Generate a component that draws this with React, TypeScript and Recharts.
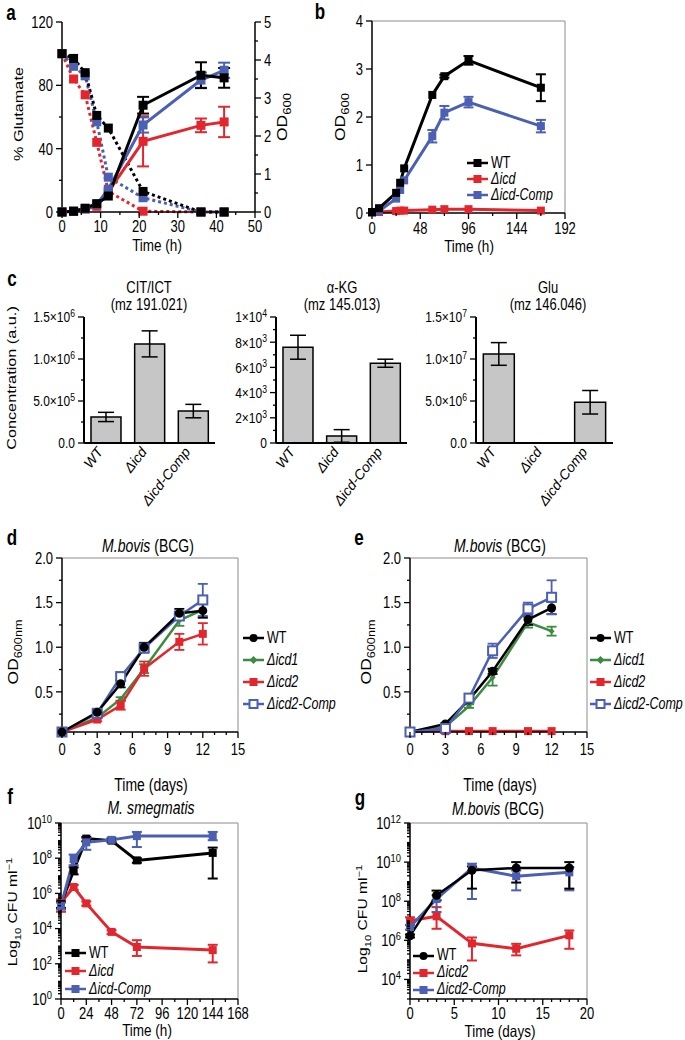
import React from 'react';
import { LineChart, Line, BarChart, Bar, XAxis, YAxis, ErrorBar, ReferenceLine, Legend } from 'recharts';

const FONT = "'Liberation Sans', Arial, Helvetica, sans-serif";
const RED = '#e1272d';
const BLUE = '#4b5fb3';
const GREEN = '#3d8b40';
const INK = '#000000';
const BAR_FILL = '#c6c6c6';
const BOX = '#8c8c8c';
const STRETCH = 1.25; // the source figure's lettering is taller than it is wide

// ---- a: glutamate consumption (dotted, left) and OD600 (solid, right)
const aTime = [0, 3, 6, 9, 12, 21, 36, 42];
const aGluWT = [100, 97, 88, 61, 53, 13, 0, 0];
const aGluIcd = [100, 84, 74, 44, 13, 0.5, 0, 0];
const aGluComp = [100, 92, 86, 57, 22, 9, 0, 0];
const aOdWT = [0, 0.02, 0.1, 0.22, 0.42, 2.81, 3.6, 3.53];
const aOdIcd = [0, 0.02, 0.08, 0.15, 0.53, 1.86, 2.28, 2.37];
const aOdComp = [0, 0.02, 0.08, 0.2, 0.6, 2.29, 3.47, 3.73];
const aOdWTErr = [0, 0, 0, 0, 0, 0.22, 0.34, 0.26];
const aOdIcdErr = [0, 0, 0, 0, 0, 0.66, 0.18, 0.4];
const aOdCompErr = [0, 0, 0, 0, 0, 0.2, 0.2, 0.2];
const aXTicks = [0, 5, 10, 15, 20, 25, 30, 35, 40, 45, 50];
const aXLabels = [0, 10, 20, 30, 40, 50];
const aGluTicks = [0, 20, 40, 60, 80, 100, 120];
const aGluLabels = [0, 40, 80, 120];
const aOdTicks = [0, 0.5, 1, 1.5, 2, 2.5, 3, 3.5, 4, 4.5, 5];
const aOdLabels = [0, 1, 2, 3, 4, 5];

// ---- b: OD600 growth
const bTime = [0, 7, 24, 28, 32, 60, 72, 96, 168];
const bWT = [0.02, 0.1, 0.42, 0.63, 0.93, 2.46, 2.85, 3.18, 2.61];
const bIcd = [0.01, 0.02, 0.04, 0.05, 0.05, 0.07, 0.08, 0.08, 0.05];
const bComp = [0.01, 0.04, 0.3, 0.48, 0.68, 1.6, 2.09, 2.31, 1.81];
const bWTErr = [0, 0, 0, 0, 0, 0, 0.03, 0.09, 0.28];
const bCompErr = [0, 0, 0, 0, 0, 0.13, 0.14, 0.11, 0.13];
const bXTicks = [0, 24, 48, 72, 96, 120, 144, 168, 192];
const bXLabels = [0, 48, 96, 144, 192];
const bYTicks = [0, 1, 2, 3, 4];

// ---- c: metabolite bars
const cStrains = ['WT', 'Δicd', 'Δicd-Comp'];
const c1Vals = [3.1e5, 1.18e6, 3.8e5];
const c1Errs = [5.5e4, 1.55e5, 8e4];
const c2Vals = [7600, 560, 6330];
const c2Errs = [950, 500, 320];
const c3Vals = [1.06e7, 4e4, 4.85e6];
const c3Errs = [1.35e6, 0, 1.4e6];
const c1Ticks = [0, 2.5e5, 5e5, 7.5e5, 1e6, 1.25e6, 1.5e6];
const c1Labels = [0, 5e5, 1e6, 1.5e6];
const c1Mant = ['0.0', '5.0×10', '1.0×10', '1.5×10'];
const c1Exp = ['', '5', '6', '6'];
const c2Ticks = [0, 1e3, 2e3, 3e3, 4e3, 5e3, 6e3, 7e3, 8e3, 9e3, 1e4];
const c2Labels = [0, 2e3, 4e3, 6e3, 8e3, 1e4];
const c2Mant = ['0', '2×10', '4×10', '6×10', '8×10', '1×10'];
const c2Exp = ['', '3', '3', '3', '3', '4'];
const c3Ticks = [0, 2.5e6, 5e6, 7.5e6, 1e7, 1.25e7, 1.5e7];
const c3Labels = [0, 5e6, 1e7, 1.5e7];
const c3Mant = ['0.0', '5.0×10', '1.0×10', '1.5×10'];
const c3Exp = ['', '6', '7', '7'];

// ---- d / e: M. bovis OD
const deTime = [0, 3, 5, 7, 10, 12];
const dWT = [0.05, 0.27, 0.59, 1.0, 1.38, 1.41];
const dWTErr = [0, 0.02, 0.04, 0.05, 0.05, 0.08];
const dIcd1 = [0.05, 0.21, 0.42, 0.76, 1.3, 1.42];
const dIcd1Err = [0, 0.01, 0.02, 0.05, 0.06, 0.08];
const dIcd2 = [0.05, 0.19, 0.35, 0.76, 1.06, 1.15];
const dIcd2Err = [0, 0.02, 0.05, 0.08, 0.09, 0.12];
const dComp = [0.05, 0.26, 0.67, 0.99, 1.35, 1.53];
const dCompErr = [0, 0.02, 0.05, 0.05, 0.04, 0.18];
const eWT = [0.05, 0.14, 0.41, 0.73, 1.31, 1.44];
const eWTErr = [0, 0.01, 0.02, 0.03, 0.06, 0.07];
const eIcd1 = [0.05, 0.11, 0.34, 0.66, 1.28, 1.18];
const eIcd1Err = [0, 0.01, 0.02, 0.09, 0.06, 0.05];
const eIcd2 = [0.05, 0.06, 0.06, 0.06, 0.06, 0.06];
const eIcd2Err = [0, 0, 0, 0, 0, 0];
const eComp = [0.05, 0.09, 0.43, 0.96, 1.43, 1.56];
const eCompErr = [0, 0.01, 0.03, 0.08, 0.07, 0.19];
const deXTicks = [0, 1, 2, 3, 4, 5, 6, 7, 8, 9, 10, 11, 12, 13, 14, 15];
const deXLabels = [0, 3, 6, 9, 12, 15];
const deYTicks = [0.25, 0.5, 0.75, 1, 1.25, 1.5, 1.75, 2];
const deYLabels = [0.5, 1, 1.5, 2];

// ---- f: M. smegmatis CFU
const fTime = [0, 12, 24, 48, 72, 144];
const fWT = [2.5e5, 2e7, 1.3e9, 1e9, 7.5e7, 2e8];
const fWTLo = [1.5e5, 1.2e7, 9e8, 8e8, 5.5e7, 7e6];
const fWTHi = [3.5e5, 3e7, 1.6e9, 1.3e9, 1e8, 4e8];
const fIcd = [3e5, 2.3e6, 2.7e5, 6.5e3, 9e2, 6e2];
const fIcdLo = [9e4, 1.6e6, 2e5, 5e3, 2.8e2, 1.2e2];
const fIcdHi = [4.5e5, 3e6, 3.5e5, 8e3, 2.2e3, 1.2e3];
const fComp = [2e5, 9e7, 8e8, 1.1e9, 1.8e9, 1.8e9];
const fCompLo = [1.2e5, 4e7, 3e8, 9e8, 4.3e8, 1.05e9];
const fCompHi = [3e5, 1.6e8, 1.4e9, 1.3e9, 3.1e9, 3.1e9];
const fXTicks = [0, 12, 24, 36, 48, 60, 72, 84, 96, 108, 120, 132, 144, 156, 168];
const fXLabels = [0, 24, 48, 72, 96, 120, 144, 168];
const fYLabels = [1, 1e2, 1e4, 1e6, 1e8, 1e10];

// ---- g: M. bovis CFU
const gTime = [0, 3, 7, 12, 18];
const gWT = [1.7e6, 2e8, 3.8e9, 5e9, 5e9];
const gWTLo = [1.4e6, 1.1e8, 4.4e8, 9e8, 4.4e8];
const gWTHi = [2e6, 3.5e8, 6e9, 1e10, 1e10];
const gIcd = [1e7, 1.7e7, 7e5, 3.7e5, 1.8e6];
const gIcdLo = [6e6, 3.9e6, 9.3e4, 1.7e5, 3.7e5];
const gIcdHi = [1.5e7, 5e7, 1.4e6, 6.6e5, 3.2e6];
const gComp = [4.8e6, 1.3e8, 5e9, 1.9e9, 3e9];
const gCompLo = [3.5e6, 2.8e7, 1.3e8, 3.6e8, 3.6e8];
const gCompHi = [6e6, 2e8, 8.3e9, 3.7e9, 5.6e9];
const gXTicks = [0, 1, 2, 3, 4, 5, 6, 7, 8, 9, 10, 11, 12, 13, 14, 15, 16, 17, 18, 19, 20];
const gXLabels = [0, 5, 10, 15, 20];
const gYLabels = [1e4, 1e6, 1e8, 1e10, 1e12];

// log axis minor ticks (2..9 x 10^n)
const logTicks = (lo: number, hi: number) => {
  const out: number[] = [];
  for (let e = lo; e <= hi; e++) {
    out.push(Math.pow(10, e));
    if (e < hi) for (let k = 2; k <= 9; k++) out.push(k * Math.pow(10, e));
  }
  return out;
};

const aData = aTime.map((t, i) => ({
  t, gWT: aGluWT[i], gIcd: aGluIcd[i], gComp: aGluComp[i],
  oWT: aOdWT[i], oIcd: aOdIcd[i], oComp: aOdComp[i],
  oWTe: aOdWTErr[i], oIcde: aOdIcdErr[i], oCompe: aOdCompErr[i],
}));
const bData = bTime.map((t, i) => ({ t, wt: bWT[i], icd: bIcd[i], comp: bComp[i], wte: bWTErr[i], compe: bCompErr[i] }));
const barData = (v: number[], e: number[]) => cStrains.map((name, i) => ({ name, v: v[i], e: e[i] }));
const deData = (w: number[], we: number[], k1: number[], k1e: number[], k2: number[], k2e: number[], c: number[], ce: number[]) =>
  deTime.map((t, i) => ({ t, wt: w[i], wte: we[i], k1: k1[i], k1e: k1e[i], k2: k2[i], k2e: k2e[i], comp: c[i], compe: ce[i] }));
const logRow = (v: number, lo: number, hi: number) => [v - lo, hi - v];
const fData = fTime.map((t, i) => ({
  t, wt: fWT[i], wte: logRow(fWT[i], fWTLo[i], fWTHi[i]),
  icd: fIcd[i], icde: logRow(fIcd[i], fIcdLo[i], fIcdHi[i]),
  comp: fComp[i], compe: logRow(fComp[i], fCompLo[i], fCompHi[i]),
}));
const gData = gTime.map((t, i) => ({
  t, wt: gWT[i], wte: logRow(gWT[i], gWTLo[i], gWTHi[i]),
  icd: gIcd[i], icde: logRow(gIcd[i], gIcdLo[i], gIcdHi[i]),
  comp: gComp[i], compe: logRow(gComp[i], gCompLo[i], gCompHi[i]),
}));

type Mk = 'sq' | 'ci' | 'open' | 'dia';
const marker = (kind: Mk, color: string, cx: number, cy: number, s: number, key?: string) => {
  if (cx == null || cy == null) return <g key={key} />;
  if (kind === 'ci') return <circle key={key} cx={cx} cy={cy} r={s / 2} fill={color} />;
  if (kind === 'open')
    return <rect key={key} x={cx - s / 2} y={cy - s / 2} width={s} height={s} fill="#fff" stroke={color} strokeWidth={2} />;
  if (kind === 'dia')
    return <path key={key} d={`M${cx} ${cy - s / 2}L${cx + s / 2} ${cy}L${cx} ${cy + s / 2}L${cx - s / 2} ${cy}Z`} fill={color} />;
  return <rect key={key} x={cx - s / 2} y={cy - s / 2} width={s} height={s} fill={color} />;
};
const dotFn = (kind: Mk, color: string, s: number) => (p: any) =>
  marker(kind, color, p.cx, p.cy, s, `${p.dataKey}-${p.index}`);

type Side = 'bottom' | 'left' | 'right';
const same = (a: number, b: number) => Math.abs(a - b) <= 1e-9 * Math.max(1, Math.abs(a));
function makeTick(side: Side, labelled: number[], fmt: (v: number) => React.ReactNode = (v) => String(v), fs = 13, drop = 14) {
  return (p: any) => {
    const v = Number(p.payload.value);
    const on = labelled.some((u) => same(u, v));
    const len = on ? 6 : 3;
    const label = (tx: number, ty: number, anchor: string) => (
      <g transform={`translate(${tx} ${ty}) scale(1 ${STRETCH})`}>
        <text x={0} y={0} dy="0.36em" textAnchor={anchor} fontFamily={FONT} fontSize={fs} fill={INK}>
          {fmt(v)}
        </text>
      </g>
    );
    if (side === 'bottom') {
      return (
        <g>
          <line x1={p.x} x2={p.x} y1={p.y} y2={p.y + len} stroke={INK} strokeWidth={1.3} />
          {on && label(p.x, p.y + drop, 'middle')}
        </g>
      );
    }
    const dir = side === 'left' ? -1 : 1;
    return (
      <g>
        <line x1={p.x} x2={p.x + dir * len} y1={p.y} y2={p.y} stroke={INK} strokeWidth={1.3} />
        {on && label(p.x + dir * 9, p.y, side === 'left' ? 'end' : 'start')}
      </g>
    );
  };
}

const sciFmt = (labels: number[], mant: string[], exp: string[]) => (v: number) => {
  const i = labels.findIndex((u) => same(u, v));
  return (
    <>
      <tspan>{mant[i]}</tspan>
      {exp[i] ? <tspan dy="-0.5em" fontSize="0.72em">{exp[i]}</tspan> : null}
    </>
  );
};
const powFmt = (v: number) => (
  <>
    <tspan>10</tspan>
    <tspan dy="-0.5em" fontSize="0.72em">{Math.round(Math.log10(v))}</tspan>
  </>
);

const CatTick = (p: any) => {
  const x = p.x - 2;
  const y = p.y + 9;
  return (
    <text x={x} y={y} transform={`rotate(-52 ${x} ${y})`} textAnchor="end" fontFamily={FONT} fontSize={14} fontStyle="italic" fill={INK}>
      {p.payload.value}
    </text>
  );
};

type Item = { name: string; color: string; kind: Mk; italic?: boolean };
const legendOf = (items: Item[], row: number, fs = 12.5) => () => (
  <div style={{ fontFamily: FONT, fontSize: fs, lineHeight: 1, whiteSpace: 'nowrap', color: INK }}>
    {items.map((it) => (
      <div key={it.name} style={{ height: row, display: 'flex', alignItems: 'center' }}>
        <svg width={21} height={12} style={{ flex: 'none' }}>
          <line x1={0} x2={21} y1={6} y2={6} stroke={it.color} strokeWidth={2.5} />
          {marker(it.kind, it.color, 10.5, 6, 8)}
        </svg>
        <span style={{ marginLeft: 3, display: 'inline-block', transform: `scale(1, ${STRETCH})`, fontStyle: it.italic ? 'italic' : 'normal' }}>
          {it.name}
        </span>
      </div>
    ))}
  </div>
);

const AX = { stroke: INK, strokeWidth: 1.5 };

const Txt = ({ x, y, rot = 0, size = 13, bold = false, children }: any) => (
  <div
    style={{
      position: 'absolute', left: x, top: y, transform: `translate(-50%, -50%) scale(1, ${STRETCH}) rotate(${rot}deg)`,
      fontSize: size, fontWeight: bold ? 700 : 400, whiteSpace: 'nowrap', lineHeight: 1, fontFamily: FONT, color: INK,
    }}
  >
    {children}
  </div>
);

const Box = ({ x, y, w, h, children }: any) => (
  <div style={{ position: 'absolute', left: x, top: y, width: w, height: h }}>{children}</div>
);

const MetaBars = ({ data, domain, ticks, labels, fmt, width }: any) => (
  <BarChart width={width} height={218} data={data} margin={{ top: 17, right: 5, bottom: 0, left: 0 }} barCategoryGap="16%">
    <XAxis dataKey="name" height={75} interval={0} tickLine={false} tickSize={0} tickMargin={0} axisLine={{ stroke: INK, strokeWidth: 2 }} tick={CatTick} />
    <YAxis width={84} domain={domain} ticks={ticks} interval={0} tickLine={false} tickSize={0} tickMargin={0} axisLine={{ stroke: INK, strokeWidth: 2 }} tick={makeTick('left', labels, fmt, 12)} />
    <Bar dataKey="v" fill={BAR_FILL} stroke={INK} strokeWidth={1.5} isAnimationActive={false}>
      <ErrorBar dataKey="e" width={8} stroke={INK} strokeWidth={1.5} />
    </Bar>
  </BarChart>
);

const odFmt = (v: number) => v.toFixed(1);

const GrowthOD = ({ data, order, right }: any) => (
  <LineChart width={right ? 270 : 250} height={232} data={data} margin={{ top: 18, right: right ? 23 : 12, bottom: 2, left: 0 }}>
    <XAxis dataKey="t" type="number" domain={[0, 15]} ticks={deXTicks} interval={0} height={38} tickLine={false} tickSize={0} tickMargin={0} axisLine={AX} tick={makeTick('bottom', deXLabels, undefined, 13, 17)} />
    <YAxis domain={[0.05, 2]} ticks={deYTicks} interval={0} width={right ? 70 : 62} tickLine={false} tickSize={0} tickMargin={0} axisLine={AX} tick={makeTick('left', deYLabels, odFmt)} />
    <ReferenceLine y={2} stroke={BOX} strokeWidth={1} />
    <ReferenceLine x={15} stroke={BOX} strokeWidth={1} />
    {order.map((k: string) => {
      const cfg: any = {
        k1: { color: GREEN, kind: 'dia', s: 6 },
        k2: { color: RED, kind: 'sq', s: 8 },
        comp: { color: BLUE, kind: 'open', s: 9 },
        wt: { color: INK, kind: 'ci', s: 9 },
      }[k];
      return (
        <Line key={k} dataKey={k} type="linear" stroke={cfg.color} strokeWidth={2.5} dot={dotFn(cfg.kind, cfg.color, cfg.s)} isAnimationActive={false}>
          <ErrorBar dataKey={`${k}e`} width={5} stroke={cfg.color} strokeWidth={1.8} />
        </Line>
      );
    })}
    <Legend
      content={legendOf(
        [
          { name: 'WT', color: INK, kind: 'ci' },
          { name: 'Δicd1', color: GREEN, kind: 'dia', italic: true },
          { name: 'Δicd2', color: RED, kind: 'sq', italic: true },
          { name: 'Δicd2-Comp', color: BLUE, kind: 'open', italic: true },
        ],
        22,
      )}
      layout="horizontal" verticalAlign="middle" align="center"
      wrapperStyle={{ left: right ? 250 : 243, top: 87, width: 'auto' }}
    />
  </LineChart>
);

export default function App() {
  return (
    <div style={{ position: 'absolute', left: 0, top: 0, width: 685, height: 1040, overflow: 'hidden', background: '#fff', fontFamily: FONT, color: INK }}>
      {/* a */}
      <Box x={0} y={0} w={300} h={255}>
        <LineChart width={300} height={255} data={aData} margin={{ top: 22, right: 0, bottom: 5, left: 0 }}>
          <XAxis dataKey="t" type="number" domain={[0, 50]} ticks={aXTicks} interval={0} height={38} tickLine={false} tickSize={0} tickMargin={0} axisLine={AX} tick={makeTick('bottom', aXLabels)} />
          <YAxis yAxisId="g" domain={[0, 120]} ticks={aGluTicks} interval={0} width={62} tickLine={false} tickSize={0} tickMargin={0} axisLine={AX} tick={makeTick('left', aGluLabels)} />
          <YAxis yAxisId="o" orientation="right" domain={[0, 5]} ticks={aOdTicks} interval={0} width={45} tickLine={false} tickSize={0} tickMargin={0} axisLine={AX} tick={makeTick('right', aOdLabels)} />
          <Line yAxisId="g" dataKey="gIcd" type="linear" stroke={RED} strokeWidth={3} strokeDasharray="3 3" dot={dotFn('sq', RED, 9)} isAnimationActive={false} />
          <Line yAxisId="g" dataKey="gComp" type="linear" stroke={BLUE} strokeWidth={3} strokeDasharray="3 3" dot={dotFn('sq', BLUE, 9)} isAnimationActive={false} />
          <Line yAxisId="g" dataKey="gWT" type="linear" stroke={INK} strokeWidth={3} strokeDasharray="3 3" dot={dotFn('sq', INK, 9)} isAnimationActive={false} />
          <Line yAxisId="o" dataKey="oIcd" type="linear" stroke={RED} strokeWidth={3} dot={dotFn('sq', RED, 9)} isAnimationActive={false}>
            <ErrorBar dataKey="oIcde" width={6} stroke={RED} strokeWidth={2} />
          </Line>
          <Line yAxisId="o" dataKey="oComp" type="linear" stroke={BLUE} strokeWidth={3} dot={dotFn('sq', BLUE, 9)} isAnimationActive={false}>
            <ErrorBar dataKey="oCompe" width={6} stroke={BLUE} strokeWidth={2} />
          </Line>
          <Line yAxisId="o" dataKey="oWT" type="linear" stroke={INK} strokeWidth={3} dot={dotFn('sq', INK, 9)} isAnimationActive={false}>
            <ErrorBar dataKey="oWTe" width={6} stroke={INK} strokeWidth={2} />
          </Line>
        </LineChart>
      </Box>
      <Txt x={11} y={13} size={17} bold>a</Txt>
      <Txt x={18} y={114} rot={-90} size={13}>% Glutamate</Txt>
      <Txt x={284} y={117} rot={-90} size={14}>OD<sub style={{ fontSize: '0.75em' }}>600</sub></Txt>
      <Txt x={157} y={246} size={13.5}>Time (h)</Txt>

      {/* b */}
      <Box x={300} y={0} w={300} h={255}>
        <LineChart width={300} height={255} data={bData} margin={{ top: 21, right: 35, bottom: 4, left: 0 }}>
          <XAxis dataKey="t" type="number" domain={[0, 192]} ticks={bXTicks} interval={0} height={38} tickLine={false} tickSize={0} tickMargin={0} axisLine={AX} tick={makeTick('bottom', bXLabels, undefined, 13, 15)} />
          <YAxis domain={[0, 4]} ticks={bYTicks} interval={0} width={72} tickLine={false} tickSize={0} tickMargin={0} axisLine={AX} tick={makeTick('left', bYTicks)} />
          <ReferenceLine y={4} stroke={BOX} strokeWidth={1} />
          <ReferenceLine x={192} stroke={BOX} strokeWidth={1} />
          <Line dataKey="icd" type="linear" stroke={RED} strokeWidth={3} dot={dotFn('sq', RED, 8)} isAnimationActive={false} />
          <Line dataKey="comp" type="linear" stroke={BLUE} strokeWidth={3} dot={dotFn('sq', BLUE, 8)} isAnimationActive={false}>
            <ErrorBar dataKey="compe" width={5} stroke={BLUE} strokeWidth={2} />
          </Line>
          <Line dataKey="wt" type="linear" stroke={INK} strokeWidth={3} dot={dotFn('sq', INK, 8)} isAnimationActive={false}>
            <ErrorBar dataKey="wte" width={5} stroke={INK} strokeWidth={2} />
          </Line>
          <Legend
            content={legendOf(
              [
                { name: 'WT', color: INK, kind: 'sq' },
                { name: 'Δicd', color: RED, kind: 'sq', italic: true },
                { name: 'Δicd-Comp', color: BLUE, kind: 'sq', italic: true },
              ],
              16,
            )}
            layout="horizontal" verticalAlign="middle" align="center"
            wrapperStyle={{ left: 167, top: 155, width: 'auto' }}
          />
        </LineChart>
      </Box>
      <Txt x={320} y={12} size={17} bold>b</Txt>
      <Txt x={342} y={117} rot={-90} size={14}>OD<sub style={{ fontSize: '0.75em' }}>600</sub></Txt>
      <Txt x={469} y={247} size={13.5}>Time (h)</Txt>

      {/* c */}
      <Box x={0} y={300} w={220} h={218}>
        <MetaBars width={220} data={barData(c1Vals, c1Errs)} domain={[0, 1.5e6]} ticks={c1Ticks} labels={c1Labels} fmt={sciFmt(c1Labels, c1Mant, c1Exp)} />
      </Box>
      <Box x={192} y={300} w={220} h={218}>
        <MetaBars width={220} data={barData(c2Vals, c2Errs)} domain={[0, 1e4]} ticks={c2Ticks} labels={c2Labels} fmt={sciFmt(c2Labels, c2Mant, c2Exp)} />
      </Box>
      <Box x={392} y={300} w={226} h={218}>
        <MetaBars width={226} data={barData(c3Vals, c3Errs)} domain={[0, 1.5e7]} ticks={c3Ticks} labels={c3Labels} fmt={sciFmt(c3Labels, c3Mant, c3Exp)} />
      </Box>
      <Txt x={12} y={279} size={17} bold>c</Txt>
      <Txt x={11} y={378} rot={-90} size={13}>Concentration (a.u.)</Txt>
      <Txt x={149} y={287} size={13}>CIT/ICT</Txt>
      <Txt x={149} y={304} size={13}>(mz 191.021)</Txt>
      <Txt x={342} y={287} size={13}>α-KG</Txt>
      <Txt x={342} y={304} size={13}>(mz 145.013)</Txt>
      <Txt x={548} y={287} size={13}>Glu</Txt>
      <Txt x={548} y={304} size={13}>(mz 146.046)</Txt>

      {/* d */}
      <Box x={0} y={540} w={250} h={232}>
        <GrowthOD data={deData(dWT, dWTErr, dIcd1, dIcd1Err, dIcd2, dIcd2Err, dComp, dCompErr)} order={['k1', 'k2', 'comp', 'wt']} />
      </Box>
      <Txt x={12} y={538} size={17} bold>d</Txt>
      <Txt x={148} y={546} size={14}><i>M.bovis</i> (BCG)</Txt>
      <Txt x={15} y={652} rot={-90} size={14}>OD<sub style={{ fontSize: '0.72em' }}>600nm</sub></Txt>
      <Txt x={151} y={785} size={14}>Time (days)</Txt>

      {/* e */}
      <Box x={340} y={540} w={270} h={232}>
        <GrowthOD data={deData(eWT, eWTErr, eIcd1, eIcd1Err, eIcd2, eIcd2Err, eComp, eCompErr)} order={['k2', 'k1', 'wt', 'comp']} right />
      </Box>
      <Txt x={359} y={538} size={17} bold>e</Txt>
      <Txt x={500} y={546} size={14}><i>M.bovis</i> (BCG)</Txt>
      <Txt x={368} y={652} rot={-90} size={14}>OD<sub style={{ fontSize: '0.72em' }}>600nm</sub></Txt>
      <Txt x={500} y={785} size={14}>Time (days)</Txt>

      {/* f */}
      <Box x={0} y={800} w={250} h={239}>
        <LineChart width={250} height={239} data={fData} margin={{ top: 23, right: 12, bottom: 0, left: 0 }}>
          <XAxis dataKey="t" type="number" domain={[0, 168]} ticks={fXTicks} interval={0} height={40} tickLine={false} tickSize={0} tickMargin={0} axisLine={AX} tick={makeTick('bottom', fXLabels)} />
          <YAxis scale="log" domain={[1, 1e10]} ticks={logTicks(0, 10)} interval={0} width={61} tickLine={false} tickSize={0} tickMargin={0} axisLine={AX} tick={makeTick('left', fYLabels, powFmt)} />
          <ReferenceLine y={1e10} stroke={BOX} strokeWidth={1} />
          <ReferenceLine x={168} stroke={BOX} strokeWidth={1} />
          <Line dataKey="icd" type="linear" stroke={RED} strokeWidth={3} dot={dotFn('sq', RED, 8)} isAnimationActive={false}>
            <ErrorBar dataKey="icde" width={5} stroke={RED} strokeWidth={2} />
          </Line>
          <Line dataKey="wt" type="linear" stroke={INK} strokeWidth={3} dot={dotFn('sq', INK, 8)} isAnimationActive={false}>
            <ErrorBar dataKey="wte" width={5} stroke={INK} strokeWidth={2} />
          </Line>
          <Line dataKey="comp" type="linear" stroke={BLUE} strokeWidth={3} dot={dotFn('sq', BLUE, 8)} isAnimationActive={false}>
            <ErrorBar dataKey="compe" width={5} stroke={BLUE} strokeWidth={2} />
          </Line>
          <Legend
            content={legendOf(
              [
                { name: 'WT', color: INK, kind: 'sq' },
                { name: 'Δicd', color: RED, kind: 'sq', italic: true },
                { name: 'Δicd-Comp', color: BLUE, kind: 'sq', italic: true },
              ],
              18,
            )}
            layout="horizontal" verticalAlign="middle" align="center"
            wrapperStyle={{ left: 65, top: 144, width: 'auto' }}
          />
        </LineChart>
      </Box>
      <Txt x={10} y={797} size={17} bold>f</Txt>
      <Txt x={151} y={808} size={14}><i>M. smegmatis</i></Txt>
      <Txt x={14} y={912} rot={-90} size={12.5}>Log<sub style={{ fontSize: '0.72em' }}>10</sub> CFU ml<sup style={{ fontSize: '0.72em' }}>−1</sup></Txt>
      <Txt x={147} y={1031} size={13.5}>Time (h)</Txt>

      {/* g */}
      <Box x={340} y={800} w={270} h={239}>
        <LineChart width={270} height={239} data={gData} margin={{ top: 23, right: 23, bottom: 0, left: 0 }}>
          <XAxis dataKey="t" type="number" domain={[0, 20]} ticks={gXTicks} interval={0} height={40} tickLine={false} tickSize={0} tickMargin={0} axisLine={AX} tick={makeTick('bottom', gXLabels)} />
          <YAxis scale="log" domain={[1e3, 1e12]} ticks={logTicks(3, 12)} interval={0} width={70} tickLine={false} tickSize={0} tickMargin={0} axisLine={AX} tick={makeTick('left', gYLabels, powFmt)} />
          <ReferenceLine y={1e12} stroke={BOX} strokeWidth={1} />
          <ReferenceLine x={20} stroke={BOX} strokeWidth={1} />
          <Line dataKey="icd" type="linear" stroke={RED} strokeWidth={3} dot={dotFn('sq', RED, 8)} isAnimationActive={false}>
            <ErrorBar dataKey="icde" width={5} stroke={RED} strokeWidth={2} />
          </Line>
          <Line dataKey="comp" type="linear" stroke={BLUE} strokeWidth={3} dot={dotFn('sq', BLUE, 8)} isAnimationActive={false}>
            <ErrorBar dataKey="compe" width={5} stroke={BLUE} strokeWidth={2} />
          </Line>
          <Line dataKey="wt" type="linear" stroke={INK} strokeWidth={2.5} dot={dotFn('ci', INK, 9)} isAnimationActive={false}>
            <ErrorBar dataKey="wte" width={5} stroke={INK} strokeWidth={2} />
          </Line>
          <Legend
            content={legendOf(
              [
                { name: 'WT', color: INK, kind: 'ci' },
                { name: 'Δicd2', color: RED, kind: 'sq', italic: true },
                { name: 'Δicd2-Comp', color: BLUE, kind: 'sq', italic: true },
              ],
              17,
            )}
            layout="horizontal" verticalAlign="middle" align="center"
            wrapperStyle={{ left: 73, top: 147, width: 'auto' }}
          />
        </LineChart>
      </Box>
      <Txt x={360} y={798} size={17} bold>g</Txt>
      <Txt x={498} y={809} size={14}><i>M.bovis</i> (BCG)</Txt>
      <Txt x={364} y={919} rot={-90} size={12.5}>Log<sub style={{ fontSize: '0.72em' }}>10</sub> CFU ml<sup style={{ fontSize: '0.72em' }}>−1</sup></Txt>
      <Txt x={500} y={1032} size={13.5}>Time (days)</Txt>
    </div>
  );
}
